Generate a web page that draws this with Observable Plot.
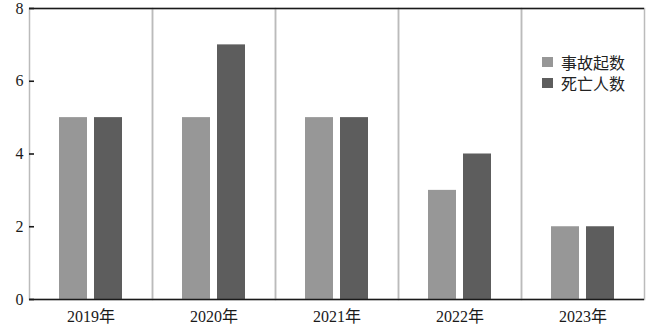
<!DOCTYPE html>
<html>
<head>
<meta charset="utf-8">
<script src="https://cdn.jsdelivr.net/npm/d3@7"></script>
<script src="https://cdn.jsdelivr.net/npm/@observablehq/plot@0.6"></script>
<style>
  html, body { margin: 0; padding: 0; background: #fff; }
  #wrap { position: relative; width: 648px; height: 327px; }
  #legend { position: absolute; left: 542px; top: 51px; font-family: "Liberation Serif", "Noto Sans CJK SC", serif; font-size: 16px; color: #222; }
  .row { display: flex; align-items: center; height: 21px; }
  .sw { width: 11px; height: 10px; margin-right: 8px; }
</style>
</head>
<body>
<div id="wrap"><div id="legend"></div></div>
<script>
const years = ["2019年", "2020年", "2021年", "2022年", "2023年"];
const series = ["事故起数", "死亡人数"];
const accidents = [5, 5, 5, 3, 2];
const deaths = [5, 7, 5, 4, 2];
const yTicks = [0, 2, 4, 6, 8];
const colors = ["#979797", "#5d5d5d"];

const data = years.flatMap((y, i) => [
  {year: y, series: series[0], value: accidents[i]},
  {year: y, series: series[1], value: deaths[i]}
]);

const font = "'Liberation Serif', 'Noto Sans CJK SC', serif";

const chart = Plot.plot({
  width: 648,
  height: 327,
  marginLeft: 27,
  marginRight: 2,
  marginTop: 8,
  marginBottom: 28,
  style: {fontFamily: font, fontSize: "16px", background: "white", color: "#1a1a1a", overflow: "visible"},
  fx: {domain: years, padding: 0, label: null},
  x: {domain: series, axis: null, paddingInner: 0.21, paddingOuter: 0.82},
  y: {domain: [0, 8], label: null},
  color: {domain: series, range: colors},
  marks: [
    Plot.frame({stroke: "#bbb", strokeWidth: 1.5}),
    Plot.barY(data, {fx: "year", x: "series", y: "value", fill: "series"}),
    Plot.ruleY([0, 8], {stroke: "#1a1a1a", strokeWidth: 1.6}),
    Plot.axisY(yTicks, {anchor: "left", line: true, tickSize: -5, tickPadding: 11, label: null, strokeWidth: 1.6}),
    Plot.axisY([], {anchor: "right", line: true, tickSize: 0, label: null, strokeWidth: 1.6}),
    Plot.axisFx({anchor: "bottom", tickSize: 0, tickPadding: 11, label: null})
  ]
});

const wrap = document.getElementById("wrap");
wrap.insertBefore(chart, wrap.firstChild);

const legend = document.getElementById("legend");
series.forEach((s, i) => {
  const row = document.createElement("div");
  row.className = "row";
  const sw = document.createElement("div");
  sw.className = "sw";
  sw.style.background = colors[i];
  const t = document.createElement("span");
  t.textContent = s;
  row.appendChild(sw);
  row.appendChild(t);
  legend.appendChild(row);
});
</script>
</body>
</html>
